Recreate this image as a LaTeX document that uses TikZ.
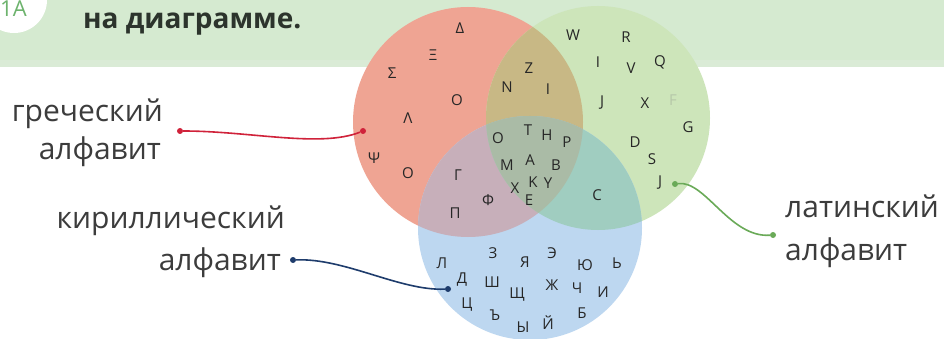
\documentclass[tikz,border=0pt]{standalone}
\usepackage{fontspec}
\setmainfont{Open Sans}
\setsansfont{Open Sans}
\definecolor{hdr}{HTML}{D5EAD0}
\definecolor{hdrlow}{HTML}{DAEBD6}
\definecolor{cred}{HTML}{EFA493}
\definecolor{cgreen}{HTML}{CDE5BA}
\definecolor{cblue}{HTML}{BDD7F0}
\definecolor{crg}{HTML}{C8B885}
\definecolor{crb}{HTML}{C7AFBA}
\definecolor{cgb}{HTML}{A0CDC0}
\definecolor{crgb}{HTML}{AABBA6}
\definecolor{ltr}{HTML}{262626}
\definecolor{lbl}{HTML}{3C3C3C}
\definecolor{ttl}{HTML}{2C342C}
\definecolor{lred}{HTML}{D0223A}
\definecolor{lblue}{HTML}{1E3C6C}
\definecolor{lgreen}{HTML}{6AAA58}
\definecolor{numgreen}{HTML}{6DB36D}
\begin{document}
\begin{tikzpicture}[x=1pt,y=-1pt,
  ch/.style={font=\fontsize{15}{15}\selectfont, text=ltr, inner sep=0pt},
  lab/.style={font=\fontsize{30}{30}\selectfont, text=lbl, inner sep=0pt},
  dotr/.style={circle, fill=lred, inner sep=0pt, minimum size=6pt},
  dotb/.style={circle, fill=lblue, inner sep=0pt, minimum size=6pt},
  dotg/.style={circle, fill=lgreen, inner sep=0pt, minimum size=6pt},
  conn/.style={line width=1.6pt}]
\useasboundingbox (0,0) rectangle (944,339);
% header band
\fill[white] (0,0) rectangle (944,339);
\fill[hdr] (0,0) rectangle (944,60);
\fill[hdrlow] (0,60) rectangle (944,67);
\fill[white] (14,0) circle (33pt);
\node[anchor=base west, font=\fontsize{22}{22}\selectfont, text=numgreen, inner sep=0pt] (num) at (0,16.5) {1А};
\node[anchor=base west, font=\bfseries\fontsize{28}{28}\selectfont, text=ttl, inner sep=0pt] (title) at (83,29) {на диаграмме.};
% circles
\coordinate (R) at (468,122);
\coordinate (G) at (598,118);
\coordinate (B) at (530,228);
\fill[cred] (R) circle (115pt);
\fill[cgreen] (G) circle (112pt);
\fill[cblue] (B) circle (112pt);
\begin{scope}\clip (R) circle (115pt); \fill[crg] (G) circle (112pt);\end{scope}
\begin{scope}\clip (R) circle (115pt); \fill[crb] (B) circle (112pt);\end{scope}
\begin{scope}\clip (G) circle (112pt); \fill[cgb] (B) circle (112pt);\end{scope}
\begin{scope}\clip (R) circle (115pt); \clip (G) circle (112pt); \fill[crgb] (B) circle (112pt);\end{scope}
% Greek only
\node[ch] (g1) at (460,28) {Δ};
\node[ch] (g2) at (433,55) {Ξ};
\node[ch] (g3) at (392,73) {Σ};
\node[ch] (g4) at (457,100) {O};
\node[ch] (g5) at (408,118) {Λ};
\node[ch] (g6) at (374,158) {Ψ};
\node[ch] (g7) at (408,173) {O};
% Greek + Latin
\node[ch] (gl1) at (529,68) {Z};
\node[ch] (gl2) at (507,87) {N};
\node[ch] (gl3) at (548,89) {I};
% Latin only
\node[ch] (l1) at (573,35) {W};
\node[ch] (l2) at (626,37) {R};
\node[ch] (l3) at (598,62) {I};
\node[ch] (l4) at (631,68) {V};
\node[ch] (l5) at (660,62) {Q};
\node[ch] (l6) at (602,103) {J};
\node[ch] (l7) at (645,103) {X};
\node[ch, text=cgreen!70!gray] (l8) at (673,100) {F};
\node[ch] (l9) at (688,127) {G};
\node[ch] (l10) at (635,142) {D};
\node[ch] (l11) at (652,159) {S};
\node[ch] (l12) at (660,183) {J};
% Latin + Cyrillic
\node[ch] (lc1) at (597,195) {C};
% all three
\node[ch] (a1) at (498,138) {O};
\node[ch] (a2) at (528,130) {T};
\node[ch] (a3) at (547,135) {H};
\node[ch] (a4) at (567,142) {P};
\node[ch] (a5) at (507,165) {M};
\node[ch] (a6) at (530,160) {A};
\node[ch] (a7) at (556,165) {B};
\node[ch] (a8) at (533,182) {K};
\node[ch] (a9) at (548,183) {Y};
\node[ch] (a10) at (515,188) {X};
\node[ch] (a11) at (529,200) {E};
% Greek + Cyrillic
\node[ch] (gc1) at (458,175) {Г};
\node[ch] (gc2) at (488,200) {Ф};
\node[ch] (gc3) at (455,213) {П};
% Cyrillic only
\node[ch] (c1) at (442,263) {Л};
\node[ch] (c2) at (493,253) {З};
\node[ch] (c3) at (525,262) {Я};
\node[ch] (c4) at (552,253) {Э};
\node[ch] (c5) at (585,265) {Ю};
\node[ch] (c6) at (617,263) {Ь};
\node[ch] (c7) at (462,280) {Д};
\node[ch] (c8) at (492,282) {Ш};
\node[ch] (c9) at (517,295) {Щ};
\node[ch] (c10) at (552,285) {Ж};
\node[ch] (c11) at (577,288) {Ч};
\node[ch] (c12) at (603,292) {И};
\node[ch] (c13) at (467,305) {Ц};
\node[ch] (c14) at (495,315) {Ъ};
\node[ch] (c15) at (582,313) {Б};
\node[ch] (c16) at (523,327) {Ы};
\node[ch] (c17) at (548,323) {Й};
% labels
\node[lab, anchor=base east] (gr1) at (163,122) {греческий};
\node[lab, anchor=base east] (gr2) at (161,160) {алфавит};
\node[lab, anchor=base east] (cy1) at (285,228) {кириллический};
\node[lab, anchor=base east] (cy2) at (281,270) {алфавит};
\node[lab, anchor=base west] (la1) at (785,217) {латинский};
\node[lab, anchor=base west] (la2) at (785,260) {алфавит};
% connectors
\node[dotr] (rs) at (180,131) {};
\node[dotr] (re) at (363,131) {};
\node[dotb] (bs) at (293,260) {};
\node[dotb] (be) at (448,289) {};
\node[dotg] (gs) at (675,184) {};
\node[dotg] (ge) at (773,235) {};
\draw[conn, lred] (rs) .. controls (250,131) and (320,148) .. (re);
\draw[conn, lblue] (bs) .. controls (345,258) and (400,291) .. (be);
\draw[conn, lgreen] (gs) .. controls (705,180) and (730,238) .. (ge);
\end{tikzpicture}
\end{document}
